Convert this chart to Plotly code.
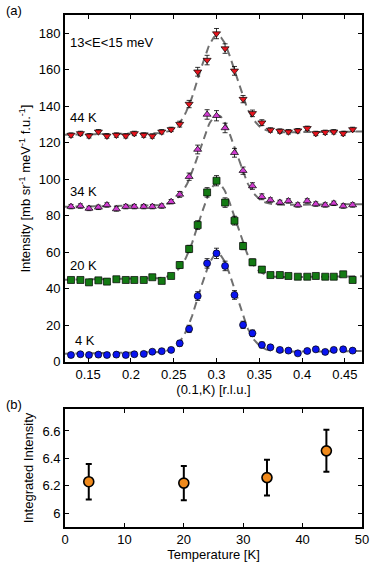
import numpy as np
import plotly.graph_objects as go
from plotly.subplots import make_subplots

# (0.1,K) scan positions [r.l.u.]
k_vals = [0.130, 0.141, 0.151, 0.162, 0.172, 0.183, 0.194, 0.204, 0.215, 0.225,
          0.236, 0.247, 0.257, 0.268, 0.278, 0.289, 0.300, 0.310, 0.321, 0.331,
          0.342, 0.353, 0.363, 0.374, 0.384, 0.395, 0.406, 0.416, 0.427, 0.437,
          0.448, 0.459]

# intensities (offset per temperature)
i_4k = [3.8, 4.2, 3.8, 4.0, 3.8, 4.0, 3.8, 4.2, 4.4, 5.6, 5.9, 6.6, 10.2, 18.1, 36.1, 54.0,
        59.5, 52.6, 36.7, 20.3, 15.7, 9.3, 8.0, 6.6, 6.2, 4.7, 6.0, 6.9, 5.5, 6.6, 6.9, 6.2]
i_20k = [44.9, 44.9, 43.6, 44.7, 44.0, 45.3, 44.9, 44.9, 44.9, 46.4, 44.4, 47.1, 53.1, 61.9, 75.0, 92.9,
         99.3, 87.3, 77.4, 63.5, 54.6, 50.6, 47.6, 47.6, 47.1, 46.7, 46.7, 47.1, 46.7, 46.7, 48.0, 44.9]
i_34k = [85.1, 85.4, 84.1, 84.7, 86.0, 83.8, 85.1, 85.1, 85.1, 85.1, 85.4, 87.8, 91.8, 101.5, 116.4, 135.6,
         134.9, 128.2, 114.6, 104.8, 96.4, 90.5, 88.7, 87.4, 88.2, 86.0, 88.2, 86.5, 86.0, 86.9, 85.4, 86.0]
i_44k = [124.3, 125.2, 123.9, 126.1, 123.8, 124.3, 123.9, 125.2, 124.3, 123.8, 126.1, 127.4, 130.3, 141.3, 159.0, 165.4,
         179.9, 171.7, 159.5, 144.0, 136.2, 131.1, 127.1, 126.5, 126.1, 126.7, 128.0, 125.2, 125.8, 126.1, 125.2, 127.4]
err_bg = [1.2] * 12
err_pk = [1.6, 2.0, 2.4, 2.6, 2.8, 2.6, 2.4, 2.0, 1.8, 1.6]
err_tail = [1.2] * 10
errs = err_bg + err_pk + err_tail

# fit parameters: background left, background right, amplitude, centre, sigma
fit_bg_l = [4.5, 45.0, 85.0, 124.5]
fit_bg_r = [6.0, 47.0, 86.5, 126.3]
fit_amp = [54.0, 52.0, 49.5, 53.5]
fit_cen = [0.301, 0.301, 0.301, 0.301]
fit_sig = [0.021, 0.021, 0.021, 0.021]

# integrated intensity vs temperature
temps = [4, 20, 34, 44]
integ = [6.23, 6.22, 6.26, 6.455]
integ_err = [0.13, 0.125, 0.13, 0.153]

labels = ["4 K", "20 K", "34 K", "44 K"]
label_y = [12, 53, 93.5, 134]
colors = ["#0a14f0", "#137a13", "#d23cd2", "#e8141e"]
symbols = ["circle", "square", "triangle-up", "triangle-down"]
series = [i_4k, i_20k, i_34k, i_44k]

fig = make_subplots(rows=2, cols=1)

xf = np.linspace(0.12, 0.48, 300)
for n in range(4):
    bg = fit_bg_l[n] + (fit_bg_r[n] - fit_bg_l[n]) * (xf - 0.12) / 0.36
    yf = bg + fit_amp[n] * np.exp(-(xf - fit_cen[n]) ** 2 / (2 * fit_sig[n] ** 2))
    fig.add_trace(go.Scatter(x=xf, y=yf, mode="lines",
                             line=dict(color="#707070", width=2, dash="8px,5px"),
                             showlegend=False), row=1, col=1)

for n in range(4):
    fig.add_trace(go.Scatter(x=k_vals, y=series[n], mode="markers",
                             marker=dict(symbol=symbols[n], size=7, color=colors[n],
                                         line=dict(color="black", width=0.7)),
                             error_y=dict(type="data", array=errs, color="black",
                                          thickness=0.8, width=2.5),
                             showlegend=False), row=1, col=1)
    fig.add_annotation(x=0.127 if n else 0.132, y=label_y[n], text=labels[n], showarrow=False,
                       xanchor="left", font=dict(size=13, color="black"), xref="x", yref="y")

fig.add_annotation(x=0.127, y=175, text="13<E<15 meV", showarrow=False, xanchor="left",
                   font=dict(size=13, color="black"), xref="x", yref="y")

fig.add_trace(go.Scatter(x=temps, y=integ, mode="markers",
                         marker=dict(symbol="circle", size=10, color="#f08a1c",
                                     line=dict(color="black", width=1.6)),
                         error_y=dict(type="data", array=integ_err, color="black",
                                      thickness=2, width=3),
                         showlegend=False), row=2, col=1)

ax = dict(showline=True, linecolor="black", linewidth=1.8, mirror="ticks", ticks="inside",
          ticklen=4, tickcolor="black", showgrid=False, zeroline=False, automargin=False,
          tickfont=dict(size=13, color="black"))

fig.update_xaxes(**ax)
fig.update_yaxes(**ax)
fig.update_xaxes(range=[0.123, 0.47], tickvals=[0.15, 0.2, 0.25, 0.3, 0.35, 0.4, 0.45],
                 ticktext=["0.15", "0.2", "0.25", "0.3", "0.35", "0.4", "0.45"],
                 domain=[0.1738, 0.968], title=dict(text="(0.1,K) [r.l.u.]", standoff=2,
                                                     font=dict(size=13, color="black")),
                 row=1, col=1)
fig.update_yaxes(range=[0, 190], dtick=20, domain=[0.356, 0.973],
                 title=dict(text="Intensity [mb sr<sup>-1</sup> meV<sup>-1</sup> f.u.<sup>-1</sup>]",
                            standoff=5, font=dict(size=13, color="black")),
                 row=1, col=1)
fig.update_xaxes(range=[0, 50], dtick=10, domain=[0.1738, 0.968],
                 title=dict(text="Temperature [K]", standoff=2, font=dict(size=13, color="black")),
                 row=2, col=1)
fig.update_yaxes(range=[5.9, 6.76], tickvals=[6, 6.2, 6.4, 6.6], ticktext=["6", "6.2", "6.4", "6.6"],
                 domain=[0.0623, 0.2722],
                 title=dict(text="Integrated Intensity", standoff=6, font=dict(size=13, color="black")),
                 row=2, col=1)

fig.add_annotation(x=0.01, y=0.998, xref="paper", yref="paper", text="(a)", showarrow=False,
                   xanchor="left", yanchor="top", font=dict(size=13, color="black"))
fig.add_annotation(x=0.01, y=0.298, xref="paper", yref="paper", text="(b)", showarrow=False,
                   xanchor="left", yanchor="top", font=dict(size=13, color="black"))

fig.update_layout(width=374, height=562, margin=dict(l=0, r=0, t=0, b=0),
                  paper_bgcolor="white", plot_bgcolor="white",
                  font=dict(family="Liberation Sans, Arial, sans-serif", size=13, color="black"))

# page body has a default 8px margin; drop it so the figure fills the window
fig.write_html("out.html", config={"displayModeBar": False},
               post_script="document.body.style.margin='0';")
